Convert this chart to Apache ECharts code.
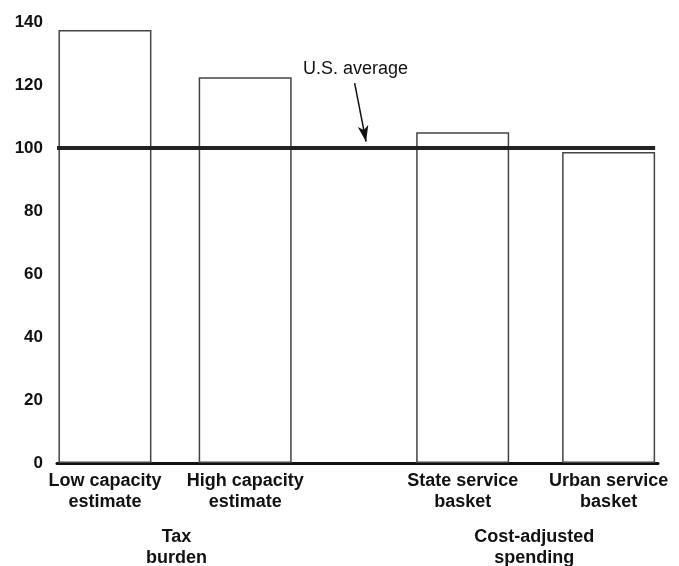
<!DOCTYPE html>
<html>
<head>
<meta charset="UTF-8">
<script src="https://cdn.jsdelivr.net/npm/echarts@6/dist/echarts.min.js"></script>
<style>
  html, body { margin: 0; padding: 0; background: #fff; }
</style>
</head>
<body>
<div id="main" style="width:679px;height:566px"></div>
<script>
// bar labels and where each bar sits along the x axis
var categories = ['Low capacity\nestimate', 'High capacity\nestimate', 'State service\nbasket', 'Urban service\nbasket'];
var positions = [1, 1.98, 3.5, 4.52];
var values = [137.5, 122.5, 105, 98.7];

// group labels under the bars
var groupNames = ['Tax\nburden', 'Cost-adjusted\nspending'];
var groupPositions = [1.5, 4];

var usAverage = 100;
var yTicks = [0, 20, 40, 60, 80, 100, 120, 140];

var font = 'Liberation Sans, Arial, Helvetica, sans-serif';

var chart = echarts.init(document.getElementById('main'));

var barData = positions.map(function (p, i) { return [p, values[i]]; });

chart.setOption({
    animation: false,
    grid: { left: 57, right: 21, top: 22, bottom: 103, outerBoundsMode: 'none', containLabel: false },
    xAxis: [{
        type: 'value',
        min: 0.665,
        max: 4.865,
        splitLine: { show: false },
        axisLine: { show: true, lineStyle: { color: '#111', width: 3 } },
        axisTick: { show: false },
        axisLabel: {
            customValues: positions,
            formatter: function (v) { return categories[positions.indexOf(v)] || ''; },
            color: '#111', fontFamily: font, fontWeight: 'bold', fontSize: 18,
            lineHeight: 21, margin: 8
        }
    }, {
        type: 'value',
        position: 'bottom',
        offset: 56,
        min: 0.665,
        max: 4.865,
        splitLine: { show: false },
        axisLine: { show: false },
        axisTick: { show: false },
        axisLabel: {
            customValues: groupPositions,
            formatter: function (v) { return groupNames[groupPositions.indexOf(v)] || ''; },
            color: '#111', fontFamily: font, fontWeight: 'bold', fontSize: 18,
            lineHeight: 21, margin: 8
        }
    }],
    yAxis: {
        type: 'value',
        min: 0,
        max: 140,
        interval: 20,
        splitLine: { show: false },
        axisLine: { show: false },
        axisTick: { show: false },
        axisLabel: {
            color: '#111', fontFamily: font, fontWeight: 'bold', fontSize: 17, margin: 14,
            formatter: function (v) { return yTicks.indexOf(v) >= 0 ? v : ''; }
        }
    },
    series: [{
        type: 'bar',
        xAxisIndex: 0,
        data: barData,
        barWidth: 93,
        itemStyle: { color: '#fff', borderColor: '#444', borderWidth: 1.5 },
        markLine: {
            silent: true,
            symbol: 'none',
            label: { show: false },
            data: [
                [{ coord: [0.665, usAverage], lineStyle: { color: '#222', width: 4, type: 'solid' } },
                 { coord: [4.845, usAverage] }],
                [{ coord: [2.745, 120.6], symbol: 'none', lineStyle: { color: '#111', width: 1.5, type: 'solid' } },
                 { coord: [2.825, 102], symbol: 'arrow', symbolSize: [8, 16] }]
            ]
        }
    }],
    graphic: [{
        type: 'text',
        left: 303,
        top: 60,
        style: {
            text: 'U.S. average',
            fill: '#111',
            font: '18px ' + font
        }
    }]
});
</script>
</body>
</html>
